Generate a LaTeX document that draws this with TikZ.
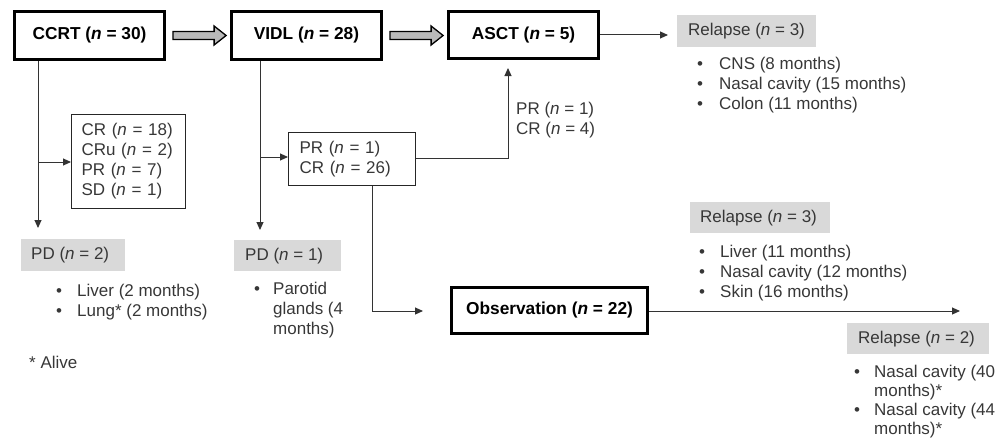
\documentclass[tikz,border=0pt]{standalone}
\usepackage{fontspec}
\setmainfont{Liberation Sans}
\usetikzlibrary{arrows.meta,calc}
\definecolor{boxgray}{RGB}{217,217,217}
\definecolor{txtgray}{RGB}{55,55,55}
\newcommand\myfs{\fontsize{17}{20}\selectfont}
\newcommand\myfb{\bfseries\fontsize{17.3}{20}\selectfont}
\newcommand\blt[1]{\makebox[#1][l]{\textbullet}}
\newcommand\fatarrow[2]{%
  \path[fatarr] let \p1=($(#1.east)+(7pt,0)$), \p2=($(#2.west)+(-4pt,0)$) in
  (\x1,\y1+4pt) -- (\x2-12pt,\y1+4pt) -- (\x2-12pt,\y1+9.5pt) -- (\x2,\y1)
  -- (\x2-12pt,\y1-9.5pt) -- (\x2-12pt,\y1-4pt) -- (\x1,\y1-4pt) -- cycle;}
\begin{document}
\begin{tikzpicture}[x=1pt,y=-1pt,
  mainbox/.style={draw=black, line width=2.8pt, font=\myfb, inner sep=0pt, text=black},
  resbox/.style={draw=black!85, line width=1.1pt, anchor=north west, inner ysep=0pt, align=left, font=\myfs, text=txtgray},
  graybox/.style={fill=boxgray, anchor=north west, inner ysep=0pt, font=\myfs, text=txtgray},
  lbl/.style={anchor=north west, inner sep=0pt, align=left, font=\myfs, text=txtgray},
  conn/.style={draw=black!80, line width=1pt, -{Triangle[length=8pt,width=7pt]}},
  fatarr/.style={fill=gray!55, draw=black, line width=1.3pt}]
\useasboundingbox (0,0) rectangle (1003,444);

% main boxes
\node[mainbox, minimum width=150pt, minimum height=48pt] (ccrt) at (89.5,35.5) {CCRT (\textit{n} = 30)};
\node[mainbox, minimum width=150pt, minimum height=48pt] (vidl) at (306.5,35.5) {VIDL (\textit{n} = 28)};
\node[mainbox, minimum width=150pt, minimum height=47pt] (asct) at (523.5,35) {ASCT (\textit{n} = 5)};
\node[mainbox, minimum width=196pt, minimum height=46pt] (obs) at (549.5,310.5) {Observation (\textit{n} = 22)};

% response boxes
\node[resbox, minimum height=94pt, text width=94pt, inner xsep=10pt] (crbox) at (71,114)
  {CR (\textit{n} = 18)\\CRu (\textit{n} = 2)\\PR (\textit{n} = 7)\\SD (\textit{n} = 1)};
\node[resbox, minimum height=53pt, text width=105pt, inner xsep=11pt] (prbox) at (288,132)
  {PR (\textit{n} = 1)\\CR (\textit{n} = 26)};

% gray boxes
\node[graybox, minimum height=32pt, inner xsep=10pt] (pd2) at (21,239) {\makebox[84pt][l]{PD (\textit{n} = 2)}};
\node[graybox, minimum height=31pt, inner xsep=11pt] (pd1) at (234,240) {\makebox[85pt][l]{PD (\textit{n} = 1)}};
\node[graybox, minimum height=32pt, inner xsep=11pt] (rel1) at (677,15) {\makebox[116.5pt][l]{Relapse (\textit{n} = 3)}};
\node[graybox, minimum height=31pt, inner xsep=10pt] (rel2) at (690,202) {\makebox[120pt][l]{Relapse (\textit{n} = 3)}};
\node[graybox, minimum height=31pt, inner xsep=11pt] (rel3) at (847,323) {\makebox[120pt][l]{Relapse (\textit{n} = 2)}};

% lists and labels
\node[lbl] (l1) at (697,56.5) {\blt{22pt}CNS (8 months)\\\blt{22pt}Nasal cavity (15 months)\\\blt{22pt}Colon (11 months)};
\node[lbl] (l2) at (56,283.5) {\blt{21pt}Liver (2 months)\\\blt{21pt}Lung* (2 months)};
\node[lbl] (l3) at (254,281.5) {\blt{19pt}Parotid\\\hspace*{19pt}glands (4\\\hspace*{19pt}months)};
\node[lbl] (l4) at (699,244.5) {\blt{21pt}Liver (11 months)\\\blt{21pt}Nasal cavity (12 months)\\\blt{21pt}Skin (16 months)};
\node[lbl, font=\fontsize{17}{19.3}\selectfont] (l5) at (854,364.5) {\blt{20pt}Nasal cavity (40\\\hspace*{20pt}months)*\\\blt{20pt}Nasal cavity (44\\\hspace*{20pt}months)*};
\node[lbl] (prcr2) at (516,101.5) {PR (\textit{n} = 1)\\CR (\textit{n} = 4)};
\node[lbl] (alive) at (29,355.5) {* Alive};

% fat arrows
\fatarrow{ccrt}{vidl}
\fatarrow{vidl}{asct}

% connectors
\coordinate (c1) at (38,228);
\coordinate (c1b) at (38,162);
\draw[conn] (ccrt.south -| c1) -- (c1);
\draw[conn] (c1b) -- (crbox.west |- c1b);

\coordinate (v1) at (260,230);
\coordinate (v1b) at (260,157);
\draw[conn] (vidl.south -| v1) -- (v1);
\draw[conn] (v1b) -- (prbox.west |- v1b);

\coordinate (a1) at (508,68);
\coordinate (a1b) at (508,158);
\draw[conn] (prbox.east |- a1b) -- (a1b) -- (a1);

\coordinate (o0) at (372,311);
\coordinate (o1) at (423,311);
\draw[conn] (prbox.south -| o0) -- (o0) -- (o1);

\coordinate (r1) at (668,35);
\draw[conn] (asct.east) -- (r1);

\coordinate (r2) at (960,311);
\draw[conn] (obs.east |- r2) -- (r2);
\end{tikzpicture}
\end{document}
